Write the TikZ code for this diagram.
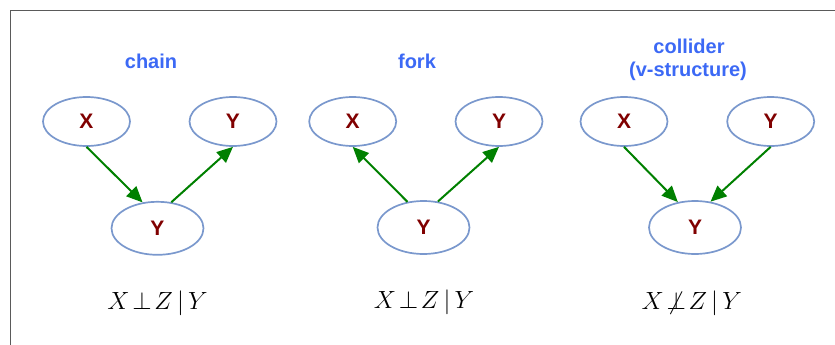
\documentclass[tikz,border=0pt]{standalone}
\usepackage{fontspec}
\newfontfamily\lblfont{Liberation Sans}
\usetikzlibrary{arrows.meta,shapes.geometric}
\definecolor{ellcol}{RGB}{122,152,205}
\definecolor{lblred}{RGB}{128,0,0}
\definecolor{ttlblue}{RGB}{60,105,245}
\definecolor{arrgreen}{RGB}{0,128,0}
\definecolor{framecol}{RGB}{90,90,90}
\tikzset{
  var/.style={ellipse,draw=ellcol,line width=1.7pt,inner sep=0pt,
    minimum width=87pt,minimum height=49pt,
    font=\lblfont\bfseries\fontsize{21}{24}\selectfont,text=lblred},
  bigvar/.style={var,minimum width=92pt,minimum height=53pt},
  ttl/.style={anchor=base,font=\lblfont\bfseries\fontsize{20}{24}\selectfont,text=ttlblue},
  formula/.style={anchor=base,font=\fontsize{23}{28}\selectfont},
  arr/.style={draw=arrgreen,line width=2pt,-{Triangle[length=16pt,width=14pt]},fill=arrgreen}
}
\begin{document}
\begin{tikzpicture}[x=1pt,y=-1pt]
\useasboundingbox (0,0) rectangle (835,345);
\draw[framecol,line width=1.5pt] (10.7,345) -- (10.7,10.7) -- (835,10.7);
% chain
\node[ttl] (t1) at (151,68) {chain};
\node[var] (cx) at (86.5,121.5) {X};
\node[var] (cy) at (233,121.5) {Y};
\node[bigvar] (cm) at (157.5,228.3) {Y};
\draw[arr] (cx.south) -- (cm.120);
\draw[arr] (cm.62) -- (cy.south);
\node[formula] (f1) at (157.5,309) {$X\mkern2mu{\perp}\mkern2mu Z\,|\,Y$};
% fork
\node[ttl] (t2) at (417,68) {fork};
\node[var] (fx) at (352.7,121.5) {X};
\node[var] (fy) at (499,121.5) {Y};
\node[bigvar] (fm) at (423.5,227.5) {Y};
\draw[arr] (fm.122) -- (fx.south);
\draw[arr] (fm.61) -- (fy.south);
\node[formula] (f2) at (424,308) {$X\mkern2mu{\perp}\mkern2mu Z\,|\,Y$};
% collider
\node[ttl] (t3) at (689,53) {collider};
\node[ttl] (t4) at (688,77) {(v-structure)};
\node[var] (kx) at (624,121.5) {X};
\node[var] (ky) at (770.7,121.5) {Y};
\node[bigvar] (km) at (695,227.5) {Y};
\draw[arr] (kx.south) -- (km.124);
\draw[arr] (ky.south) -- (km.59.5);
\node[formula] (f3) at (691.7,309) {$X\mkern2mu{\not\perp}\mkern2mu Z\,|\,Y$};
\end{tikzpicture}
\end{document}
